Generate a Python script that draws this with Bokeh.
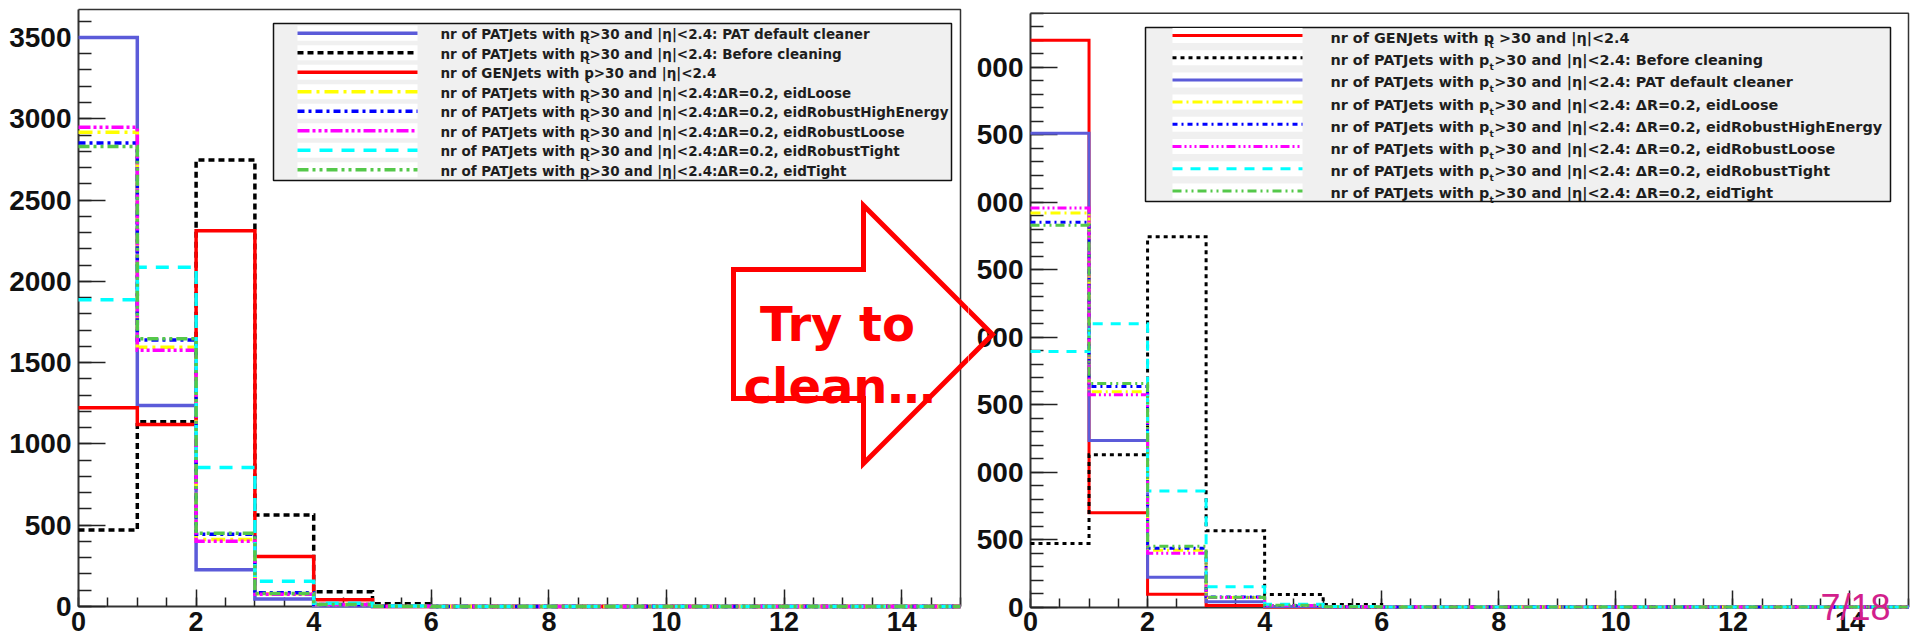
from bokeh.plotting import figure
from bokeh.layouts import row
from bokeh.models import SingleIntervalTicker, PolyAnnotation, Label, Range1d
from bokeh.core.properties import value
from bokeh.embed import file_html
from bokeh.resources import INLINE

# ------------------------------------------------------------------ data
bin_edges = list(range(16))          # number of jets, bins 0..15
zeros9 = [0] * 9

# left panel
left_pat_default = [3500, 1237, 226, 46, 5, 0] + zeros9
left_before      = [470, 1136, 2746, 563, 90, 17] + zeros9
left_gen         = [1222, 1119, 2311, 307, 42, 0] + zeros9
left_eid_loose   = [2917, 1594, 412, 78, 12, 2] + zeros9
left_eid_rhe     = [2851, 1639, 445, 85, 12, 2] + zeros9
left_eid_rloose  = [2947, 1576, 402, 76, 12, 2] + zeros9
left_eid_rtight  = [1886, 2087, 855, 156, 20, 3] + zeros9
left_eid_tight   = [2829, 1647, 450, 80, 13, 2] + zeros9

# right panel (after "Try to clean...")
right_gen         = [4200, 699, 95, 12, 0, 0] + zeros9
right_before      = [471, 1128, 2745, 565, 93, 19] + zeros9
right_pat_default = [3511, 1234, 220, 38, 4, 0] + zeros9
right_eid_loose   = [2921, 1596, 420, 71, 12, 2] + zeros9
right_eid_rhe     = [2851, 1635, 435, 74, 12, 2] + zeros9
right_eid_rloose  = [2957, 1574, 398, 70, 12, 2] + zeros9
right_eid_rtight  = [1894, 2100, 860, 150, 20, 3] + zeros9
right_eid_tight   = [2830, 1657, 450, 72, 13, 2] + zeros9

left_labels = [
    "nr of PATJets with p>30 and |\u03b7|<2.4: PAT default cleaner",
    "nr of PATJets with p>30 and |\u03b7|<2.4: Before cleaning",
    "nr of GENJets with p>30 and |\u03b7|<2.4",
    "nr of PATJets with p>30 and |\u03b7|<2.4:\u0394R=0.2, eidLoose",
    "nr of PATJets with p>30 and |\u03b7|<2.4:\u0394R=0.2, eidRobustHighEnergy",
    "nr of PATJets with p>30 and |\u03b7|<2.4:\u0394R=0.2, eidRobustLoose",
    "nr of PATJets with p>30 and |\u03b7|<2.4:\u0394R=0.2, eidRobustTight",
    "nr of PATJets with p>30 and |\u03b7|<2.4:\u0394R=0.2, eidTight",
]
right_labels = [
    "nr of GENJets with p >30 and |\u03b7|<2.4",
    "nr of PATJets with p >30 and |\u03b7|<2.4: Before cleaning",
    "nr of PATJets with p >30 and |\u03b7|<2.4: PAT default cleaner",
    "nr of PATJets with p >30 and |\u03b7|<2.4: \u0394R=0.2, eidLoose",
    "nr of PATJets with p >30 and |\u03b7|<2.4: \u0394R=0.2, eidRobustHighEnergy",
    "nr of PATJets with p >30 and |\u03b7|<2.4: \u0394R=0.2, eidRobustLoose",
    "nr of PATJets with p >30 and |\u03b7|<2.4: \u0394R=0.2, eidRobustTight",
    "nr of PATJets with p >30 and |\u03b7|<2.4: \u0394R=0.2, eidTight",
]
right_y_tick_text = {0: "0", 500: "500", 1000: "000", 1500: "500", 2000: "000",
                     2500: "500", 3000: "000", 3500: "500", 4000: "000"}
slide_number = "7/18"
arrow_text = ["Try to", "clean\u2026"]

# ------------------------------------------------------------------ styles
C_PAT = "#5b5bd9"; C_BEF = "#000000"; C_GEN = "#ff0000"; C_YEL = "#ffff00"
C_BLU = "#0000ff"; C_MAG = "#ff00ff"; C_CYA = "#00ffff"; C_GRN = "#55c84a"

left_series = [
    (left_labels[0], left_pat_default, C_PAT, "solid", 3.5),
    (left_labels[1], left_before, C_BEF, "6 4", 3.5),
    (left_labels[2], left_gen, C_GEN, "solid", 3.5),
    (left_labels[3], left_eid_loose, C_YEL, "14 5 3 5", 3.5),
    (left_labels[4], left_eid_rhe, C_BLU, "7 4 3 4", 3.5),
    (left_labels[5], left_eid_rloose, C_MAG, "12 3 3 3 3 3 3 3", 3.5),
    (left_labels[6], left_eid_rtight, C_CYA, "13 9", 3.5),
    (left_labels[7], left_eid_tight, C_GRN, "11 4 3 4 3 4", 3.5),
]
right_series = [
    (right_labels[0], right_gen, C_GEN, "solid", 3),
    (right_labels[1], right_before, C_BEF, "4 4", 3),
    (right_labels[2], right_pat_default, C_PAT, "solid", 3),
    (right_labels[3], right_eid_loose, C_YEL, "10 4 2 4", 3),
    (right_labels[4], right_eid_rhe, C_BLU, "5 4 2 4", 3),
    (right_labels[5], right_eid_rloose, C_MAG, "9 3 2 3 2 3 2 3", 3),
    (right_labels[6], right_eid_rtight, C_CYA, "10 8", 3),
    (right_labels[7], right_eid_tight, C_GRN, "9 4 2 4 2 4", 3),
]

CANVAS_H = 641


class Geo:
    """maps pixel positions of the slide to a panel's data space"""
    def __init__(self, x0, x1, ytop, y0, ymax, cx0, cx1):
        self.x0, self.x1, self.ytop, self.y0, self.ymax = x0, x1, ytop, y0, ymax
        self.cx0, self.cx1 = cx0, cx1      # canvas extent (slide px)

    def x(self, px):
        return (px - self.x0) / (self.x1 - self.x0) * 15.0

    def y(self, py):
        return (self.y0 - py) / (self.y0 - self.ytop) * self.ymax


gL = Geo(78, 960, 9, 606, 3672, 0, 968)
gR = Geo(1030, 1908, 12.7, 606.5, 4401, 968, 1914)


def make_fig(g):
    p = figure(x_range=Range1d(g.x(g.cx0), g.x(g.cx1)),
               y_range=Range1d(g.y(CANVAS_H), g.y(0)),
               frame_width=g.cx1 - g.cx0, frame_height=CANVAS_H,
               min_border=0, min_border_left=0, min_border_right=0,
               min_border_top=0, min_border_bottom=0,
               output_backend="svg", toolbar_location=None)
    p.xgrid.visible = False
    p.ygrid.visible = False
    p.outline_line_color = None
    p.background_fill_color = "white"
    p.border_fill_color = "white"
    p.xaxis.ticker = SingleIntervalTicker(interval=2, num_minor_ticks=4)
    p.yaxis.ticker = SingleIntervalTicker(interval=500, num_minor_ticks=5)
    p.xaxis.fixed_location = 0
    p.yaxis.fixed_location = 0
    p.xaxis.bounds = (0, 15)
    p.yaxis.bounds = (0, g.ymax)
    for ax in p.axis:
        ax.level = "underlay"
        ax.axis_line_color = "#333333"
        ax.axis_line_width = 2
        ax.major_tick_out = 0
        ax.minor_tick_out = 0
        ax.major_tick_line_color = "#222222"
        ax.minor_tick_line_color = "#222222"
        ax.major_tick_line_width = 1.5
        ax.minor_tick_line_width = 1.5
        ax.major_label_text_font = "Liberation Sans"
        ax.major_label_text_font_style = "bold"
        ax.major_label_text_color = "#111111"
    p.xaxis.major_tick_in = 17
    p.xaxis.minor_tick_in = 9
    p.yaxis.major_tick_in = 27
    p.yaxis.minor_tick_in = 13
    p.xaxis.major_label_text_font_size = "27px"
    p.yaxis.major_label_text_font_size = "28px"
    p.xaxis.major_label_standoff = 5
    p.yaxis.major_label_standoff = 7
    # top and right edges of the histogram frame
    p.line(x=[0, 15, 15], y=[g.ymax, g.ymax, 0], line_color="#333333", line_width=1.5)
    return p


def draw_hists(p, series):
    for _, vals, color, dash, width in series:
        p.step(x=bin_edges, y=vals + [vals[-1]], mode="after",
               line_color=color, line_dash=dash, line_width=width, line_join="miter")


def draw_legend(p, g, series, box, sample_x, text_x, line0, pitch, base_off, t_x, font_px):
    l, t, r, b = box
    p.quad(left=[g.x(l)], right=[g.x(r)], top=[g.y(t)], bottom=[g.y(b)],
           fill_color="#f0f0f0", line_color="#111111", line_width=1.5)
    for i, (label, _, color, dash, width) in enumerate(series):
        ly = line0 + pitch * i
        p.quad(left=[g.x(sample_x[0])], right=[g.x(sample_x[1])],
               top=[g.y(ly - 7.5)], bottom=[g.y(ly + 7.5)],
               fill_color="white", line_color=None)
        p.line(x=[g.x(sample_x[0]), g.x(sample_x[1])], y=[g.y(ly), g.y(ly)],
               line_color=color, line_dash=dash, line_width=width)
        p.text(x=[g.x(text_x)], y=[g.y(ly + base_off)], text=[label],
               text_font=value("DejaVu Sans"), text_font_style="bold",
               text_font_size=f"{font_px}px", text_color="#1e1e1e",
               text_align="left", text_baseline="alphabetic")
        p.text(x=[g.x(t_x)], y=[g.y(ly + base_off + 7)], text=["t"],
               text_font=value("DejaVu Sans"), text_font_style="bold",
               text_font_size="9px", text_color="#1e1e1e",
               text_align="left", text_baseline="alphabetic")


def draw_arrow(p, g):
    pts = [(733, 269), (863, 269), (863, 205), (992, 334), (863, 463), (863, 398), (733, 398)]
    p.add_layout(PolyAnnotation(xs=[g.x(a) for a, _ in pts], ys=[g.y(b) for _, b in pts],
                                xs_units="data", ys_units="data",
                                fill_alpha=0, line_color="#ff0000", line_alpha=1.0,
                                line_width=5, line_join="miter"))


# ------------------------------------------------------------------ left panel
pL = make_fig(gL)
draw_hists(pL, left_series)
draw_legend(pL, gL, left_series, (273, 23, 951, 180), (297, 417), 440,
            32.7, 19.5, 1, 585, 13.5)
draw_arrow(pL, gL)
pL.add_layout(Label(x=gL.x(837), y=gL.y(323), text=arrow_text[0], text_align="center",
                    text_baseline="alphabetic", text_font="DejaVu Sans", text_font_style="bold",
                    text_font_size="48px", text_color="#ff0000"))
pL.add_layout(Label(x=gL.x(839), y=gL.y(385), text=arrow_text[1], text_align="center",
                    text_baseline="alphabetic", text_font="DejaVu Sans", text_font_style="bold",
                    text_font_size="48px", text_color="#ff0000"))

# ------------------------------------------------------------------ right panel
pR = make_fig(gR)
pR.yaxis.major_label_overrides = right_y_tick_text
draw_hists(pR, right_series)
draw_legend(pR, gR, right_series, (1145, 27, 1890, 201), (1172, 1302), 1330,
            35, 22.2, 2.5, 1489, 14.4)
draw_arrow(pR, gR)
pR.add_layout(Label(x=gR.x(1820), y=gR.y(607), text=slide_number, text_align="left",
                    text_baseline="alphabetic", text_font="Liberation Sans",
                    text_font_size="36px", text_color="#d21f8c"))

layout = row(pL, pR)
open("out.html", "w").write(file_html(layout, INLINE))
